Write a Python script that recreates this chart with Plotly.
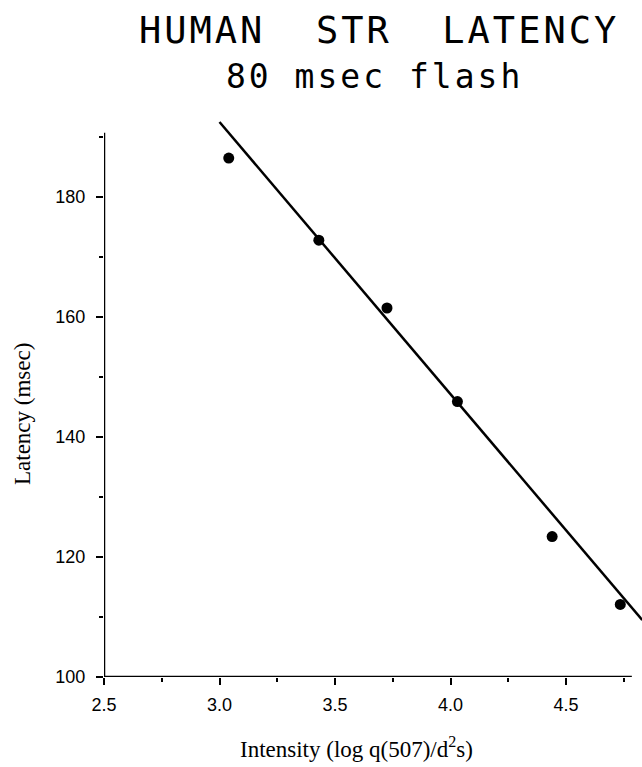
import plotly.graph_objects as go

# Data
intensity = [3.04, 3.43, 3.725, 4.03, 4.44, 4.735]
latency = [186.5, 172.8, 161.5, 145.9, 123.4, 112.1]

# Regression line endpoints (as drawn)
fit_x = [3.0, 4.83]
fit_y = [192.5, 109.5]

x_ticks = [2.5, 3.0, 3.5, 4.0, 4.5]
x_ticklabels = ["2.5", "3.0", "3.5", "4.0", "4.5"]
y_ticks = [100, 120, 140, 160, 180]
y_ticklabels = ["100", "120", "140", "160", "180"]

x_range = [2.5, 4.829]
y_range = [100, 192.67]
x_axis_end = 4.785
y_axis_end = 190.7

fig = go.Figure()
fig.add_trace(go.Scatter(x=fit_x, y=fit_y, mode="lines",
                         line=dict(color="black", width=2.5),
                         showlegend=False, hoverinfo="skip"))
fig.add_trace(go.Scatter(x=intensity, y=latency, mode="markers",
                         marker=dict(color="black", size=11),
                         showlegend=False, cliponaxis=False))

tickfont = dict(family="Liberation Sans, Arial, sans-serif", size=18, color="black")

fig.update_xaxes(range=x_range, showline=False, showgrid=False, zeroline=False,
                 tickmode="array", tickvals=x_ticks, ticktext=x_ticklabels,
                 ticks="outside", ticklen=7, tickwidth=2, tickcolor="black",
                 tickfont=tickfont, ticklabelstandoff=4,
                 minor=dict(dtick=0.25, tick0=2.5, ticks="outside", ticklen=4,
                            tickwidth=2, tickcolor="black", showgrid=False))
fig.update_yaxes(range=y_range, showline=False, showgrid=False, zeroline=False,
                 tickmode="array", tickvals=y_ticks, ticktext=y_ticklabels,
                 ticks="outside", ticklen=7, tickwidth=2, tickcolor="black",
                 tickfont=tickfont, ticklabelstandoff=7,
                 minor=dict(dtick=10, tick0=100, ticks="outside", ticklen=4,
                            tickwidth=2, tickcolor="black", showgrid=False))

# axis lines
fig.add_shape(type="line", xref="x", yref="y", x0=x_range[0], x1=x_axis_end,
              y0=y_range[0], y1=y_range[0], line=dict(color="black", width=2.5))
fig.add_shape(type="line", xref="x", yref="y", x0=x_range[0], x1=x_range[0],
              y0=y_range[0], y1=y_axis_end, line=dict(color="black", width=2.5))

nb = "\u00a0"
fig.add_annotation(text=f"<span style='letter-spacing:3px'>HUMAN{nb*2}STR{nb*2}LATENCY</span>",
                   xref="paper", yref="paper",
                   x=(379 - 104) / 538, y=1, yshift=121 - 30, xanchor="center", yanchor="middle",
                   showarrow=False,
                   font=dict(family="DejaVu Sans Mono, monospace", size=37, color="black"))
fig.add_annotation(text="<span style='letter-spacing:3px'>80 msec flash</span>",
                   xref="paper", yref="paper",
                   x=(374 - 104) / 538, y=1, yshift=121 - 76, xanchor="center", yanchor="middle",
                   showarrow=False,
                   font=dict(family="DejaVu Sans Mono, monospace", size=33, color="black"))

seriffont = dict(family="Liberation Serif, Times New Roman, serif", size=23, color="black")
fig.add_annotation(text="Intensity (log q(507)/d<sup>2</sup>s)", xref="paper", yref="paper",
                   x=(356 - 104) / 538, y=0, yshift=-(747 - 677), xanchor="center", yanchor="middle",
                   showarrow=False, font=seriffont)
fig.add_annotation(text="Latency (msec)", xref="paper", yref="paper",
                   x=0, xshift=-(104 - 22), y=(677 - 414) / 556, xanchor="center", yanchor="middle",
                   textangle=-90, showarrow=False, font=seriffont)

fig.update_layout(width=642, height=767, margin=dict(l=104, r=0, t=121, b=90),
                  paper_bgcolor="white", plot_bgcolor="white")

fig.write_html("out.html")
